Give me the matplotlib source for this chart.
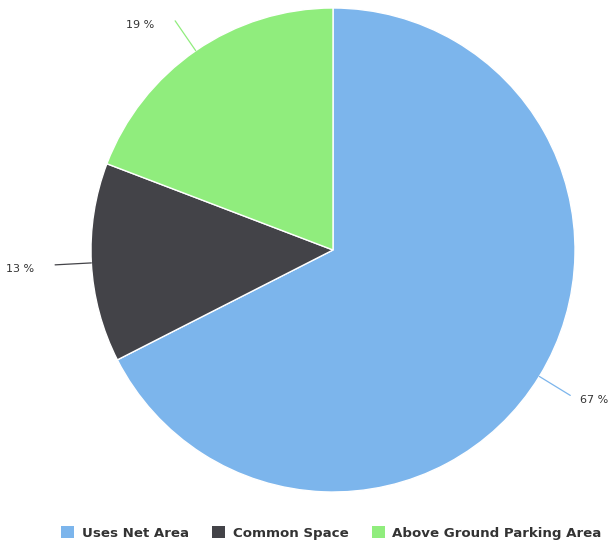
import numpy as np
import matplotlib.pyplot as plt
from matplotlib.patches import Patch

# slice data, clockwise from 12 o'clock
categories = ["Uses Net Area", "Common Space", "Above Ground Parking Area"]
shares = [67.5, 13.3, 19.2]
pct_labels = ["67 %", "13 %", "19 %"]
colors = ["#7cb5ec", "#434348", "#90ed7d"]

W, H = 608, 542
CX, CY, R = 333, H - 250, 242

fig = plt.figure(figsize=(W / 100, H / 100), dpi=100, facecolor="white")
ax = fig.add_axes([0, 0, 1, 1])

wedges, _ = ax.pie(
    shares,
    colors=colors,
    startangle=90,
    counterclock=False,
    center=(CX, CY),
    radius=R,
    wedgeprops=dict(edgecolor="white", linewidth=1.0),
    frame=True,
)
ax.set_xlim(0, W)
ax.set_ylim(0, H)
ax.set_aspect("equal")
ax.set_axis_off()

for w, lab, col in zip(wedges, pct_labels, colors):
    mid = np.deg2rad((w.theta1 + w.theta2) / 2)
    x0, y0 = CX + R * np.cos(mid), CY + R * np.sin(mid)
    x1, y1 = CX + 1.15 * R * np.cos(mid), CY + 1.15 * R * np.sin(mid)
    ax.plot([x0, x1], [y0, y1], color=col, lw=0.9, solid_capstyle="round")
    right = np.cos(mid) > 0
    ax.annotate(
        lab,
        (x1, y1),
        xytext=(7 if right else -15, -3),
        textcoords="offset points",
        ha="left" if right else "right",
        va="center",
        fontsize=8,
        color="#333333",
    )

handles = [Patch(facecolor=c, edgecolor="none") for c in colors]
fig.legend(
    handles,
    categories,
    loc="lower center",
    bbox_to_anchor=(0.545, -0.018),
    ncol=3,
    frameon=False,
    handlelength=1.0,
    handleheight=1.0,
    handletextpad=0.55,
    columnspacing=1.75,
    prop=dict(size=9.6, weight="bold"),
    labelcolor="#333333",
)

fig.savefig("out.png", dpi=100, facecolor="white")
